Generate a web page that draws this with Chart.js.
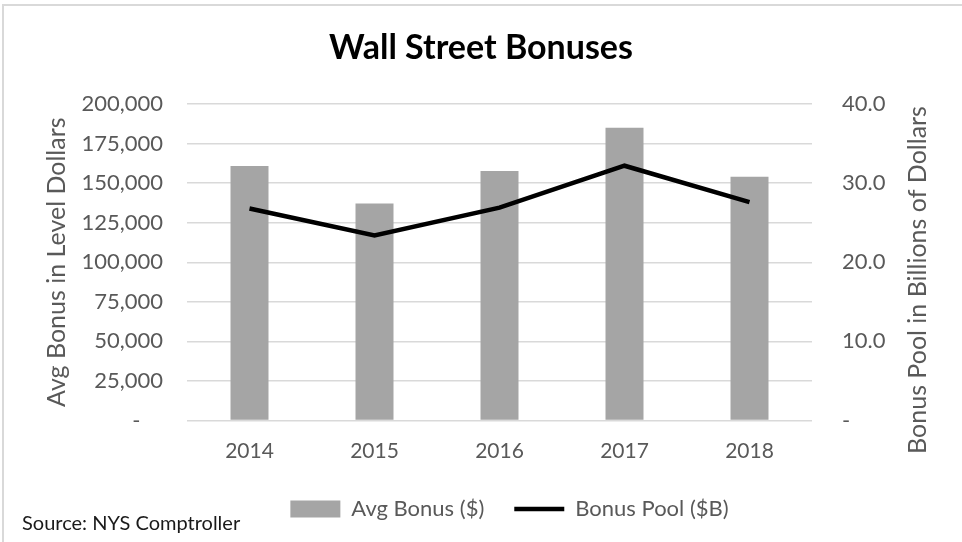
<!DOCTYPE html>
<html>
<head>
<meta charset="utf-8">
<script src="https://cdn.jsdelivr.net/npm/chart.js@4.4.1/dist/chart.umd.min.js"></script>
<style>
  html, body { margin: 0; padding: 0; background: #fff; }
  #wrap { position: relative; width: 962px; height: 542px; }
  #frame { position: absolute; left: 2px; top: 4px; right: 0; bottom: 0;
           border-left: 2px solid #d9d9d9; border-top: 2px solid #d9d9d9; pointer-events: none; }
</style>
</head>
<body>
<div id="wrap">
  <canvas id="chart" width="962" height="542"></canvas>
  <div id="frame"></div>
</div>
<script>
const years = ['2014', '2015', '2016', '2017', '2018'];
const avgBonus = [160800, 137200, 157600, 185000, 154100]; // level dollars
const bonusPool = [26.8, 23.4, 26.9, 32.2, 27.6]; // billions
const leftTitle = 'Avg Bonus in Level Dollars';
const rightTitle = 'Bonus Pool in Billions of Dollars';
const sourceNote = 'Source: NYS Comptroller';

Chart.defaults.font.family = 'Lato, "Open Sans", sans-serif';
Chart.defaults.color = '#595959';

// right axis title reads upward like the left one, and the source note
const extras = {
  id: 'extras',
  afterLayout(chart) {
    // legend sits a bit right of the plot centre in the original
    chart.legend.left += 10;
    chart.legend.right += 10;
  },
  afterDraw(chart) {
    const ctx = chart.ctx;
    ctx.save();
    ctx.fillStyle = '#595959';
    ctx.font = '25px Lato';
    ctx.textAlign = 'center';
    ctx.textBaseline = 'middle';
    ctx.translate(918, 280);
    ctx.rotate(-Math.PI / 2);
    ctx.fillText(rightTitle, 0, 0);
    ctx.restore();

    ctx.save();
    ctx.fillStyle = '#1a1a1a';
    ctx.font = '20px Lato';
    ctx.textAlign = 'left';
    ctx.textBaseline = 'middle';
    ctx.fillText(sourceNote, 22, 524);
    ctx.restore();
  }
};

new Chart(document.getElementById('chart'), {
  type: 'bar',
  data: {
    labels: years,
    datasets: [
      {
        label: 'Avg Bonus ($)',
        data: avgBonus,
        backgroundColor: '#a5a5a5',
        borderWidth: 0,
        barPercentage: 0.304,
        categoryPercentage: 1,
        yAxisID: 'y',
        order: 2
      },
      {
        type: 'line',
        label: 'Bonus Pool ($B)',
        data: bonusPool,
        borderColor: '#000',
        backgroundColor: '#000',
        borderWidth: 4.5,
        pointRadius: 0,
        tension: 0,
        yAxisID: 'y1',
        order: 1
      }
    ]
  },
  options: {
    responsive: false,
    animation: false,
    layout: { padding: { left: 0, right: 0, top: 0, bottom: 12 } },
    plugins: {
      title: {
        display: true,
        text: 'Wall Street Bonuses',
        color: '#000',
        font: { size: 34, weight: 'bold' },
        padding: { top: 28, bottom: 35.2 }
      },
      legend: {
        position: 'bottom',
        fullSize: false,
        labels: {
          color: '#595959',
          font: { size: 22 },
          usePointStyle: true,
          pointStyleWidth: 50,
          boxHeight: 17,
          padding: 30,
          sort: (a, b) => a.datasetIndex - b.datasetIndex,
          generateLabels(chart) {
            const items = Chart.defaults.plugins.legend.labels.generateLabels(chart);
            items.forEach((it) => {
              if (it.datasetIndex === 0) {
                it.pointStyle = 'rect';
                it.lineWidth = 0;
              } else {
                it.pointStyle = 'line';
                it.lineWidth = 4.5;
                it.strokeStyle = '#000';
              }
            });
            return items;
          }
        }
      },
      tooltip: { enabled: false }
    },
    scales: {
      x: {
        grid: { display: false },
        border: { display: false },
        ticks: { font: { size: 21 }, color: '#595959', padding: 10 },
        afterFit(scale) { scale.height = 47.5; }
      },
      y: {
        position: 'left',
        min: 0,
        max: 200000,
        grid: { color: '#d9d9d9', lineWidth: 1.5, drawTicks: false },
        border: { display: false },
        ticks: {
          stepSize: 25000,
          padding: 24,
          font: { size: 22 },
          color: '#595959',
          callback: (v) => v === 0 ? '-    ' : v.toLocaleString('en-US')
        },
        title: {
          display: true,
          text: leftTitle,
          color: '#595959',
          font: { size: 25 },
          padding: { top: 42 }
        },
        afterFit(scale) { scale.width = 187; }
      },
      y1: {
        position: 'right',
        min: 0,
        max: 40,
        grid: { drawOnChartArea: false, drawTicks: false },
        border: { display: false },
        ticks: {
          stepSize: 10,
          padding: 30,
          font: { size: 22 },
          color: '#595959',
          callback: (v) => v === 0 ? '-' : v.toFixed(1)
        },
        afterFit(scale) { scale.width = 150; }
      }
    }
  },
  plugins: [extras]
});
</script>
</body>
</html>
